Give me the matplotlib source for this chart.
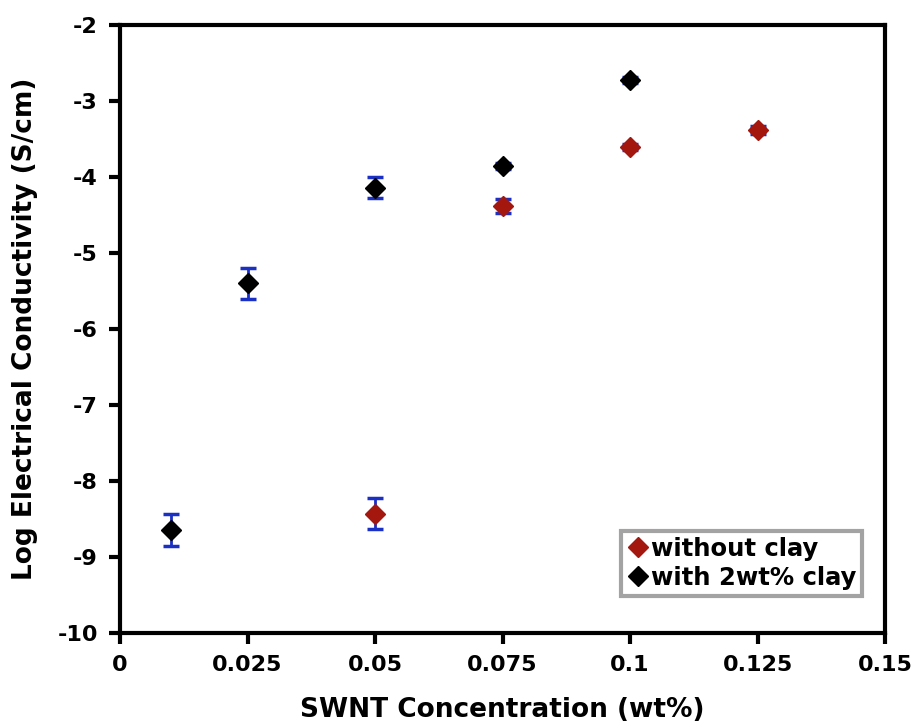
import matplotlib.pyplot as plt

# data
x_noclay = [0.05, 0.075, 0.1, 0.125]
y_noclay = [-8.43, -4.38, -3.60, -3.38]
err_noclay = [0.20, 0.09, 0.04, 0.05]

x_clay = [0.01, 0.025, 0.05, 0.075, 0.1]
y_clay = [-8.65, -5.40, -4.14, -3.86, -2.72]
err_clay = [0.21, 0.20, 0.14, 0.04, 0.04]

xticks = [0, 0.025, 0.05, 0.075, 0.1, 0.125, 0.15]
xticklabels = ["0", "0.025", "0.05", "0.075", "0.1", "0.125", "0.15"]
yticks = [-10, -9, -8, -7, -6, -5, -4, -3, -2]

plt.rcParams['font.family'] = 'DejaVu Sans'
plt.rcParams['font.weight'] = 'bold'
plt.rcParams['axes.unicode_minus'] = False

fig = plt.figure(figsize=(9.19, 7.28), dpi=100)
ax = fig.add_axes([0.1306, 0.1305, 0.8324, 0.8352])

err_color = '#1a2fc4'
red = '#a3170f'

ax.errorbar(x_noclay, y_noclay, yerr=err_noclay, fmt='none', ecolor=err_color,
            elinewidth=2, capsize=5.5, capthick=2.5, zorder=2)
ax.errorbar(x_clay, y_clay, yerr=err_clay, fmt='none', ecolor=err_color,
            elinewidth=2, capsize=5.5, capthick=2.5, zorder=2)
ax.plot(x_noclay, y_noclay, 'D', color=red, markersize=10.5, linestyle='none',
        label='without clay', zorder=3)
ax.plot(x_clay, y_clay, 'D', color='black', markersize=10.5, linestyle='none',
        label='with 2wt% clay', zorder=3)

ax.set_xlim(0, 0.15)
ax.set_ylim(-10, -2)
ax.set_xticks(xticks)
ax.set_xticklabels(xticklabels)
ax.set_yticks(yticks)

for s in ax.spines.values():
    s.set_linewidth(3)
ax.tick_params(axis='both', direction='out', length=8, width=3,
               labelsize=16, pad=8)
for lab in ax.get_xticklabels() + ax.get_yticklabels():
    lab.set_fontweight('bold')

ax.set_xlabel('SWNT Concentration (wt%)', fontsize=19, fontweight='bold', labelpad=16)
ax.set_ylabel('Log Electrical Conductivity (S/cm)', fontsize=19, fontweight='bold', labelpad=14)

leg = ax.legend(loc='lower right', fontsize=17.5, frameon=True, fancybox=False,
                handletextpad=0.05, handlelength=0.9, borderpad=0.25,
                labelspacing=0.2, borderaxespad=0, bbox_to_anchor=(0.97, 0.061))
leg.get_frame().set_edgecolor('#8c8c8c')
leg.get_frame().set_linewidth(3)
for t in leg.get_texts():
    t.set_fontweight('bold')

fig.savefig('out.png', dpi=100)
